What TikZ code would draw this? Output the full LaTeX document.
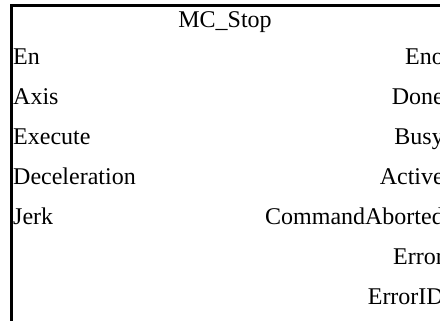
\documentclass[tikz,border=0pt]{standalone}
\usepackage{fontspec}
\setmainfont{Liberation Serif}

\begin{document}
\begin{tikzpicture}[x=1pt,y=-1pt,
      every node/.style = {inner sep=0pt, font=\fontsize{24}{28}\selectfont},
      inpin/.style = {anchor=base west},
      outpin/.style = {anchor=base east}]
  \useasboundingbox (0,0) rectangle (440,321);
  \clip (0,0) rectangle (440,321);
  \draw[line width=3pt] (440,5.5) -- (11,5.5) -- (11,321);
  \node[anchor=base] (title) at (225,28) {MC\_Stop};
  \foreach \name [count=\i from 0] in {En,Axis,Execute,Deceleration,Jerk}
    \node[inpin] (in\i) at (13,65+40*\i) {\name};
  \foreach \name [count=\i from 0] in {Eno,Done,Busy,Active,CommandAborted,Error,ErrorID}
    \node[outpin] (out\i) at (444,65+40*\i) {\name};
\end{tikzpicture}
\end{document}
